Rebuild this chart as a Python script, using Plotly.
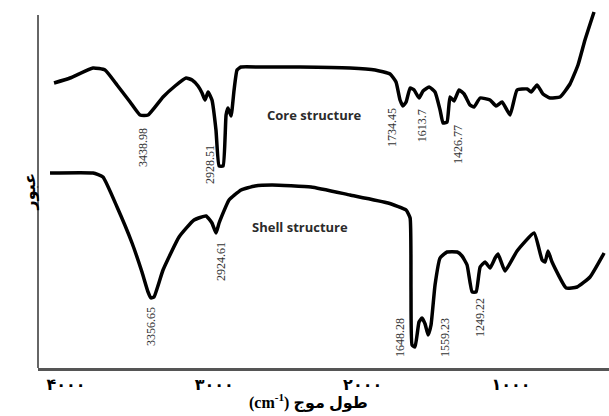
import plotly.graph_objects as go

# Core structure spectrum (wavenumber cm-1, transmittance a.u.)
core_x = [4081, 3973, 3818, 3737, 3656, 3568, 3501, 3447, 3346, 3265, 3191, 3150, 3110, 3083,
          3063, 3042, 3016, 2989, 2968, 2941, 2921, 2908, 2887, 2867, 2847, 2820, 2692, 2422,
          2085, 1916, 1815, 1775, 1748, 1728, 1707, 1680, 1653, 1620, 1593, 1552, 1512, 1478,
          1458, 1431, 1411, 1384, 1350, 1316, 1276, 1249, 1208, 1141, 1100, 1060, 1006, 959,
          891, 864, 824, 784, 736, 669, 602, 548, 501, 440]
core_y = [285, 290, 300, 298, 283, 266, 253, 253, 271, 282, 290, 288, 282, 275,
          268, 276, 268, 238, 202, 202, 253, 260, 252, 278, 298, 301, 301, 301,
          300, 298, 294, 286, 268, 262, 266, 280, 278, 270, 277, 281, 276, 258,
          245, 246, 271, 267, 278, 274, 263, 261, 270, 268, 262, 266, 253, 278,
          279, 276, 283, 274, 270, 271, 284, 303, 328, 356]

# Shell structure spectrum
shell_x = [4108, 3818, 3751, 3656, 3555, 3488, 3447, 3427, 3407, 3346, 3238, 3137, 3056, 3016,
           2989, 2968, 2901, 2820, 2726, 2611, 2348, 2085, 1829, 1707, 1680, 1674, 1667, 1647,
           1620, 1600, 1579, 1559, 1539, 1512, 1478, 1431, 1363, 1330, 1296, 1262, 1235, 1208,
           1175, 1141, 1107, 1087, 1040, 959, 844, 790, 770, 750, 723, 628, 554, 467, 372]
shell_y = [195, 195, 191, 161, 125, 96, 76, 70, 71, 98, 131, 148, 152, 145,
           135, 145, 168, 178, 182, 183, 181, 173, 165, 158, 150, 78, 23, 21,
           46, 50, 44, 33, 43, 83, 110, 116, 116, 112, 103, 76, 76, 101,
           106, 100, 110, 114, 97, 117, 135, 108, 106, 117, 106, 80, 81, 91, 115]

# Peak labels and their anchor points (wavenumber axis, transmittance)
peak_text = ["3438.98", "2928.51", "1734.45", "1613.7", "1426.77",
             "3356.65", "2924.61", "1648.28", "1559.23", "1249.22"]
peak_lx = [3481, 3029, 1802, 1599, 1357, 3427, 2955, 1748, 1444, 1208]
peak_ly = [220, 203, 240, 242, 223, 41, 106, 30, 30, 50]

tick_vals = [4000, 3000, 2000, 1000]
tick_text = ["۴۰۰۰", "۳۰۰۰", "۲۰۰۰", "۱۰۰۰"]

fig = go.Figure()
for xs, ys in [(core_x, core_y), (shell_x, shell_y)]:
    fig.add_trace(go.Scatter(x=xs, y=ys, mode="lines",
                             line=dict(color="black", width=3.5, shape="spline", smoothing=0.4),
                             showlegend=False, hoverinfo="skip"))

for t, lx, ly in zip(peak_text, peak_lx, peak_ly):
    fig.add_annotation(x=lx, y=ly, text=t, textangle=-90, showarrow=False,
                       font=dict(family="Liberation Serif", size=12, color="#333"))

fig.add_annotation(xref="paper", yref="paper", x=0.485, y=0.717, text="Core structure",
                   showarrow=False, font=dict(family="Open Sans", size=13, color="#2b2b2b", weight="bold"))
fig.add_annotation(xref="paper", yref="paper", x=0.459, y=0.383, text="Shell structure",
                   showarrow=False, font=dict(family="Open Sans", size=13, color="#2b2b2b", weight="bold"))

fig.add_annotation(xref="paper", yref="paper", x=0.4746, y=-0.125,
                   text="(cm<sup>-1</sup>) طول موج", showarrow=False,
                   font=dict(family="Liberation Serif, DejaVu Sans", size=16, color="black", weight="bold"))
fig.add_annotation(xref="paper", yref="paper", x=-0.0333, y=0.481, text="عبور", textangle=-90,
                   showarrow=False,
                   font=dict(family="DejaVu Sans", size=16, color="black", weight="bold"))

# left axis line
fig.add_shape(type="line", xref="paper", yref="y", x0=0, x1=0, y0=0, y1=353,
              line=dict(color="#666", width=2))

fig.update_layout(
    width=609, height=416, margin=dict(l=38, r=0, t=0, b=48),
    plot_bgcolor="white", paper_bgcolor="white",
    xaxis=dict(range=[4189, 339], showgrid=False, zeroline=False, showline=True,
               linecolor="#555", linewidth=3, tickvals=tick_vals, ticktext=tick_text,
               ticks="", ticklabelstandoff=0,
               tickfont=dict(family="DejaVu Sans", size=16, color="black", weight="bold")),
    yaxis=dict(range=[0, 368], showgrid=False, zeroline=False, showline=False,
               showticklabels=False, ticks=""),
)
fig.write_html("out.html")
